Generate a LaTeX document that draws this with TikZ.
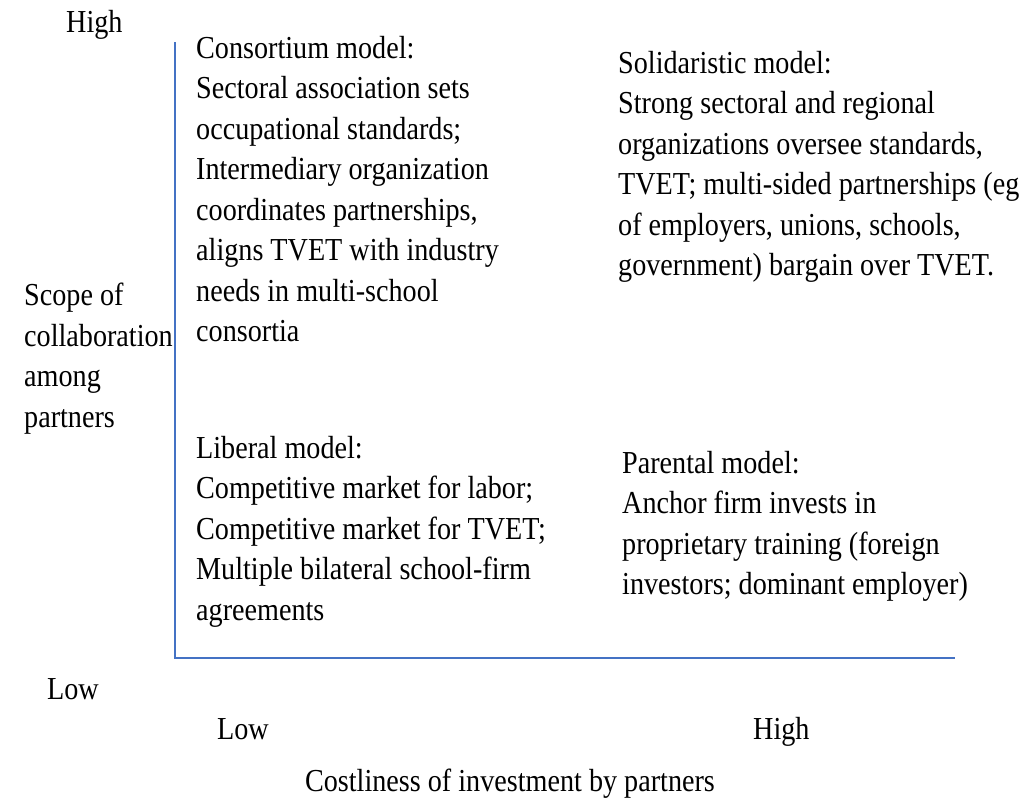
\documentclass[tikz,border=0pt]{standalone}
\usepackage{fontspec}
\setmainfont[FakeStretch=0.88]{Liberation Serif}
\begin{document}
\begin{tikzpicture}[x=1pt,y=-1pt,
  axis/.style={draw=axisblue,line width=1.5pt},
  txt/.style={inner sep=0pt,align=left,font=\fontsize{32}{40.5}\selectfont},
  lbl/.style={inner sep=0pt,font=\fontsize{32}{40.5}\selectfont}]
\definecolor{axisblue}{HTML}{4472C4}
\useasboundingbox (0,0) rectangle (1031,798);
\coordinate (top) at (175,42);
\coordinate (origin) at (175,658);
\coordinate (right) at (955,658);
\draw[axis] (top) -- (origin) -- (right);
\node[lbl,anchor=base west] (yhigh) at (66,32.5) {High};
\node[lbl,anchor=base west] (ylow) at (47,699) {Low};
\node[lbl,anchor=base west] (xlow) at (217,739) {Low};
\node[lbl,anchor=base west] (xhigh) at (753,739) {High};
\node[lbl,anchor=base] (xtitle) at (510,791) {Costliness of investment by partners};
\node[txt,anchor=north west] (ytitle) at (24,283) {Scope of\\collaboration\\among\\partners};
\node[txt,anchor=north west] (consortium) at (196,36) {Consortium model:\\Sectoral association sets\\occupational standards;\\Intermediary organization\\coordinates partnerships,\\aligns TVET with industry\\needs in multi-school\\consortia};
\node[txt,anchor=north west] (solidaristic) at (618,51) {Solidaristic model:\\Strong sectoral and regional\\organizations oversee standards,\\TVET; multi-sided partnerships (eg\\of employers, unions, schools,\\government) bargain over TVET.};
\node[txt,anchor=north west] (liberal) at (196,436) {Liberal model:\\Competitive market for labor;\\Competitive market for TVET;\\Multiple bilateral school-firm\\agreements};
\node[txt,anchor=north west] (parental) at (622,451) {Parental model:\\Anchor firm invests in\\proprietary training (foreign\\investors; dominant employer)};
\end{tikzpicture}
\end{document}
